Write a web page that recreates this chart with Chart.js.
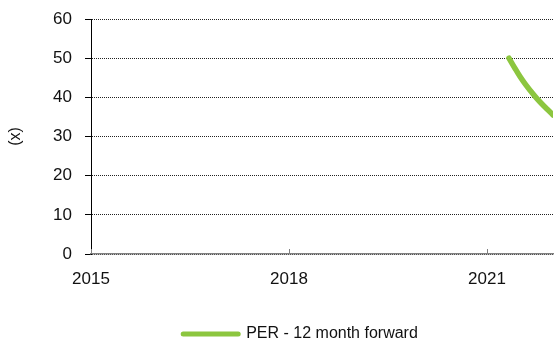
<!DOCTYPE html>
<html>
<head>
<meta charset="utf-8">
<script src="https://cdn.jsdelivr.net/npm/chart.js@4/dist/chart.umd.min.js"></script>
<style>
    html, body { margin: 0; padding: 0; background: #fff; }
    #wrap { width: 555px; height: 347px; }
</style>
</head>
<body>
<div id="wrap"><canvas id="perChart"></canvas></div>
<script>
// PER chart - 12 month forward

// Data (x = decimal year, monthly)
const years = [2021.333, 2021.417, 2021.5, 2021.583, 2021.667, 2021.75, 2021.833, 2021.917, 2022.0];
const perValues = [50.0, 47.6, 45.3, 43.3, 41.5, 39.8, 38.3, 36.9, 35.5];
const xTickYears = [2015, 2018, 2021];
const yTicks = [0, 10, 20, 30, 40, 50, 60];

const seriesLabel = 'PER - 12 month forward';
const axisTitle = '(x)';

const colors = {
    line: '#8cc63f',
    text: '#111111',
    grid: '#222222',
    xAxis: '#808080'
};

const fontFamily = '"Liberation Sans", Arial, sans-serif';

// small upward tick marks on the x axis
const xTickMarks = {
    id: 'xTickMarks',
    afterDraw(chart) {
        const x = chart.scales.x;
        const ctx = chart.ctx;
        const bottom = chart.chartArea.bottom;
        ctx.save();
        ctx.strokeStyle = colors.xAxis;
        ctx.lineWidth = 1;
        xTickYears.forEach(function(v) {
            const px = Math.round(x.getPixelForValue(v)) + 0.5;
            ctx.beginPath();
            ctx.moveTo(px, bottom);
            ctx.lineTo(px, bottom - 5);
            ctx.stroke();
        });
        ctx.restore();
    }
};

// the legend sits a bit right of centre in the original
const legendShift = {
    id: 'legendShift',
    afterLayout(chart) {
        chart.legend.left += 24;
        chart.legend.right += 24;
    }
};

const points = years.map(function(y, i) { return { x: y, y: perValues[i] }; });

new Chart(document.getElementById('perChart'), {
    type: 'line',
    data: {
        datasets: [{
            label: seriesLabel,
            data: points,
            borderColor: colors.line,
            backgroundColor: colors.line,
            borderWidth: 5.5,
            borderCapStyle: 'round',
            cubicInterpolationMode: 'monotone',
            pointRadius: 0,
            fill: false
        }]
    },
    options: {
        responsive: true,
        maintainAspectRatio: false,
        animation: false,
        layout: {
            padding: { top: 19, right: 2, bottom: -5, left: 0 }
        },
        plugins: {
            tooltip: { enabled: false },
            legend: {
                position: 'bottom',
                labels: {
                    padding: 2,
                    color: colors.text,
                    font: { family: fontFamily, size: 16 },
                    generateLabels: function(chart) {
                        const ds = chart.data.datasets[0];
                        return [{
                            text: ds.label,
                            fillStyle: ds.borderColor,
                            strokeStyle: ds.borderColor,
                            lineWidth: 5,
                            lineCap: 'round',
                            pointStyle: 'line',
                            fontColor: colors.text,
                            datasetIndex: 0
                        }];
                    },
                    usePointStyle: true,
                    pointStyleWidth: 55
                }
            }
        },
        scales: {
            x: {
                type: 'linear',
                min: 2015,
                max: 2022,
                afterBuildTicks: function(scale) {
                    scale.ticks = xTickYears.map(function(v) { return { value: v }; });
                },
                afterFit: function(scale) {
                    scale.height = 70;
                },
                grid: { display: false, drawTicks: false },
                border: { display: true, color: colors.xAxis, width: 1.5 },
                ticks: {
                    padding: 15,
                    color: colors.text,
                    font: { family: fontFamily, size: 17 },
                    maxRotation: 0,
                    callback: function(v) { return String(v); }
                }
            },
            y: {
                min: 0,
                max: 60,
                afterBuildTicks: function(scale) {
                    scale.ticks = yTicks.map(function(v) { return { value: v }; });
                },
                afterFit: function(scale) {
                    scale.width = 91;
                    scale.paddingTop = 0;
                    scale.paddingBottom = 0;
                },
                grid: {
                    color: colors.grid,
                    lineWidth: 1,
                    drawTicks: true,
                    tickLength: 6,
                    tickColor: '#000'
                },
                border: { display: true, color: '#000', width: 1, dash: [1, 1] },
                title: {
                    display: true,
                    text: axisTitle,
                    color: colors.text,
                    font: { family: fontFamily, size: 16 },
                    padding: { top: 6, bottom: 0 }
                },
                ticks: {
                    padding: 13,
                    color: colors.text,
                    font: { family: fontFamily, size: 17 }
                }
            }
        }
    },
    plugins: [xTickMarks, legendShift]
});
</script>
</body>
</html>
